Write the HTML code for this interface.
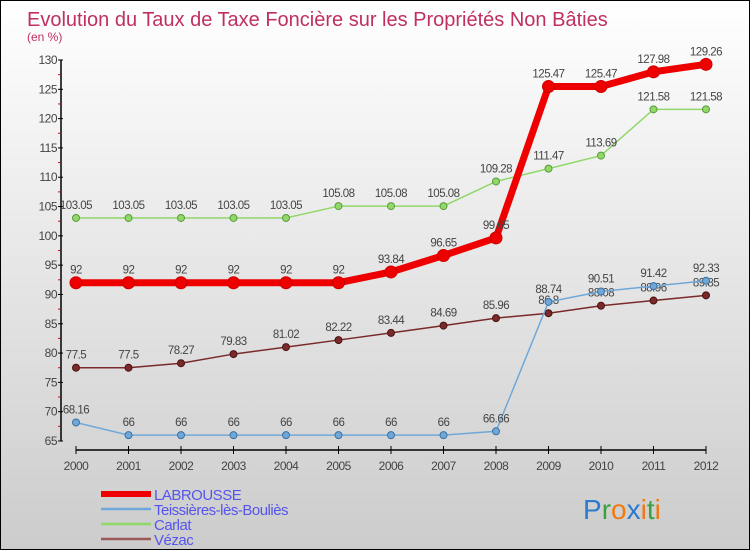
<!DOCTYPE html>
<html><head><meta charset="utf-8"><style>
body{margin:0}
#c{width:750px;height:550px;position:relative;box-sizing:border-box;border:1px solid #000;background:linear-gradient(#fff,#ccc);font-family:"Liberation Sans",sans-serif;overflow:hidden}
</style></head><body>
<div id="c">
<svg id="s" width="748" height="548" xmlns="http://www.w3.org/2000/svg"></svg>
</div>
<script>
const years=["2000","2001","2002","2003","2004","2005","2006","2007","2008","2009","2010","2011","2012"];
const labrousse=[92,92,92,92,92,92,93.84,96.65,99.65,125.47,125.47,127.98,129.26];
const teissieres=[68.16,66,66,66,66,66,66,66,66.66,88.74,90.51,91.42,92.33];
const carlat=[103.05,103.05,103.05,103.05,103.05,105.08,105.08,105.08,109.28,111.47,113.69,121.58,121.58];
const vezac=[77.5,77.5,78.27,79.83,81.02,82.22,83.44,84.69,85.96,86.8,88.08,88.96,89.85];
const yTicks=[65,70,75,80,85,90,95,100,105,110,115,120,125,130];
const s=document.getElementById('s');const NS="http://www.w3.org/2000/svg";
function X(i){return 75+i*52.5;}
function Y(v){return 59+(130-v)*(381/65);}
function el(t,a,p){const e=document.createElementNS(NS,t);for(const k in a)e.setAttribute(k,a[k]);(p||s).appendChild(e);return e;}
let t=el('text',{x:26,y:25,'font-size':20,fill:'#c0305f'});t.textContent="Evolution du Taux de Taxe Foncière sur les Propriétés Non Bâties";

t=el('text',{x:26,y:40,'font-size':12,fill:'#c0305f'});t.textContent="(en %)";

let ax=el('line',{x1:60,y1:Y(130),x2:60,y2:Y(65),stroke:'#000','stroke-width':1.5});

yTicks.forEach(v=>{el('line',{x1:57,x2:62,y1:Y(v),y2:Y(v),stroke:'#000'});
 if(v<130)el('line',{x1:57,x2:59,y1:Y(v+2.5),y2:Y(v+2.5),stroke:'#e00'});
 const l=el('text',{x:56,y:Y(v)+4,'font-size':12,fill:'#444','text-anchor':'end','letter-spacing':'-0.5'});l.textContent=v;
 });
ax=el('line',{x1:X(0),y1:449,x2:X(12),y2:449,stroke:'#000','stroke-width':1.5});

years.forEach((y,i)=>{el('line',{x1:X(i),x2:X(i),y1:445,y2:453,stroke:'#000'});
 const l=el('text',{x:X(i),y:469,'font-size':12,fill:'#444','text-anchor':'middle','letter-spacing':'-0.5'});l.textContent=y;
 });
function series(d,col,w,r,name,dark){
 const g=el('g',{});
 el('polyline',{points:d.map((v,i)=>X(i)+','+Y(v)).join(' '),fill:'none',stroke:col,'stroke-width':w},g);
 d.forEach((v,i)=>{const c=el('circle',{cx:X(i),cy:Y(v),r:r,fill:col,stroke:dark,'stroke-width':1},g);
  
  const l=el('text',{x:X(i),y:Y(v)-9,'font-size':11.5,fill:'#444','text-anchor':'middle','letter-spacing':'-0.5'},g);l.textContent=v;
  });
}
series(vezac,'#7a2a2a',1.5,3.5,'vezac','#4a1010');
series(teissieres,'#6fa8d8',1.5,3.5,'teissieres','#3a70a0');
series(carlat,'#90d868',1.5,3.5,'carlat','#5a9a3a');
series(labrousse,'#ee0000',7,6,'labrousse','#c00');
const leg=[["LABROUSSE","#ee0000",6],["Teissières-lès-Bouliès","#6fa8d8",2.5],["Carlat","#90d868",2.5],["Vézac","#9a5a5a",2.5]];
leg.forEach((e,i)=>{const g=el('g',{});
 const y=493+i*15;el('line',{x1:100,x2:150,y1:y,y2:y,stroke:e[1],'stroke-width':e[2]},g);
 const l=el('text',{x:153,y:y+6,'font-size':15,fill:'#5555ee','letter-spacing':'-0.5'},g);l.textContent=e[0];});
const p=el('text',{x:582,y:518,'font-size':28});
[["P","#2a7ad0"],["r","#3aa040"],["o","#f07a10"],["x","#2a7ad0"],["i","#f07a10"],["t","#3aa040"],["i","#f07a10"]].forEach(c=>{const ts=el('tspan',{fill:c[1]},p);ts.textContent=c[0];});
</script>
</body></html>
